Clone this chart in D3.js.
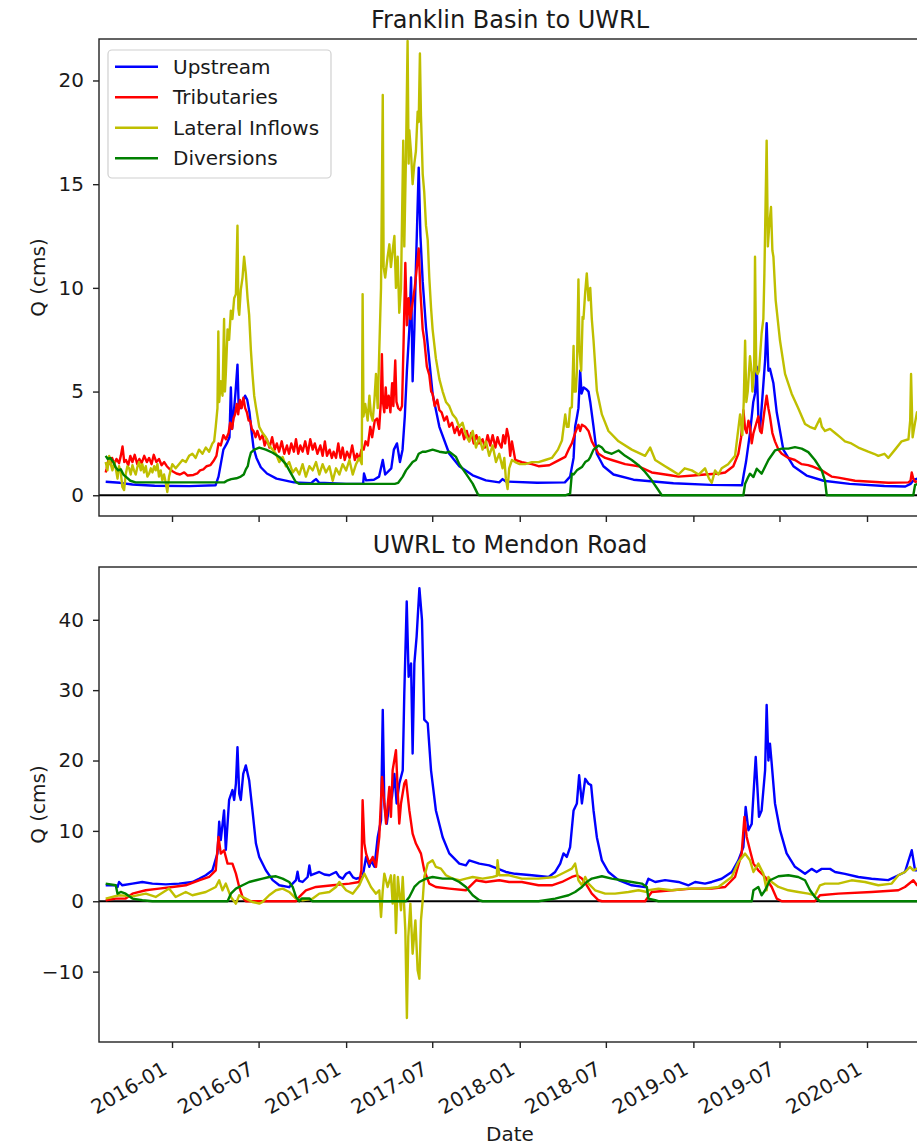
<!DOCTYPE html>
<html><head><meta charset="utf-8">
<script src="https://cdn.jsdelivr.net/npm/d3@7"></script>
<style>body{margin:0;background:#fff;} svg{display:block;font-family:"DejaVu Sans",sans-serif;}</style>
</head><body><svg id="chart" width="917" height="1148"></svg>
<script>
// ---------- data (time as decimal year, value in cms) ----------
const seriesNames = ["Upstream","Tributaries","Lateral Inflows","Diversions"];
const seriesColors = ["#0000ff","#ff0000","#bfbf00","#008000"];
const panelTitles = ["Franklin Basin to UWRL","UWRL to Mendon Road"];
const topTicks = [0,5,10,15,20];
const bottomTicks = [-10,0,10,20,30,40];
const xTickLabels = ["2016-01","2016-07","2017-01","2017-07","2018-01","2018-07","2019-01","2019-07","2020-01"];

const topUpstream = [
[2015.618,0.65],[2015.70,0.6],[2015.772,0.52],[2015.90,0.46],[2016.10,0.44],[2016.25,0.48],
[2016.267,0.9],[2016.280,1.5],[2016.295,2.2],[2016.315,2.5],[2016.330,2.8],[2016.338,5.2],[2016.345,3.2],[2016.355,4.0],[2016.365,5.0],[2016.376,6.3],[2016.383,4.2],[2016.395,4.2],[2016.410,4.6],[2016.420,4.8],[2016.432,4.6],[2016.445,4.0],[2016.458,3.0],[2016.468,2.3],[2016.485,1.8],[2016.510,1.35],[2016.545,1.05],[2016.60,0.8],[2016.70,0.62],[2016.80,0.58],[2016.815,0.7],[2016.827,0.78],[2016.845,0.6],[2017.00,0.55],[2017.098,0.55],
[2017.103,1.05],[2017.115,0.72],[2017.16,0.75],[2017.19,0.9],[2017.211,1.7],[2017.225,1.0],[2017.26,1.3],[2017.275,2.2],[2017.293,2.5],[2017.310,1.6],[2017.325,2.2],[2017.338,3.8],[2017.350,6.0],[2017.364,8.0],[2017.374,10.5],[2017.383,5.5],[2017.393,8.0],[2017.402,11.0],[2017.418,15.8],[2017.428,12.5],[2017.441,10.3],[2017.460,8.1],[2017.479,6.5],[2017.498,4.9],[2017.537,3.3],[2017.594,2.0],[2017.652,1.4],[2017.729,0.96],[2017.805,0.72],[2017.882,0.62],[2017.901,0.78],[2017.92,0.66],
[2018.10,0.6],[2018.26,0.62],[2018.29,0.9],[2018.31,1.8],[2018.319,3.3],[2018.330,3.8],[2018.338,4.2],[2018.348,6.0],[2018.356,4.9],[2018.368,5.2],[2018.385,5.1],[2018.396,5.0],[2018.406,4.5],[2018.425,3.3],[2018.444,2.0],[2018.482,1.4],[2018.540,1.0],[2018.655,0.75],[2018.885,0.58],
[2019.10,0.5],[2019.28,0.48],[2019.29,1.0],[2019.303,1.6],[2019.326,3.0],[2019.345,4.5],[2019.355,4.9],[2019.365,6.2],[2019.374,3.8],[2019.384,3.2],[2019.40,5.0],[2019.413,6.5],[2019.422,8.3],[2019.432,6.0],[2019.441,6.1],[2019.461,5.4],[2019.480,4.0],[2019.518,2.2],[2019.576,1.4],[2019.652,0.95],[2019.75,0.7],[2019.90,0.55],[2020.10,0.45],[2020.22,0.42],[2020.25,0.55],[2020.27,0.75],[2020.31,0.85]
];

const topTributaries = [
[2015.618,1.1],[2015.624,1.3],[2015.635,1.75],[2015.645,1.5],[2015.655,1.8],[2015.668,1.5],[2015.680,1.75],[2015.695,1.55],[2015.705,1.9],[2015.715,2.35],[2015.725,1.6],[2015.735,1.7],[2015.748,1.45],[2015.760,1.9],[2015.772,1.6],[2015.785,1.95],[2015.800,1.5],[2015.812,1.75],[2015.825,1.55],[2015.840,1.9],[2015.855,1.6],[2015.868,1.8],[2015.882,1.5],[2015.895,1.95],[2015.910,1.6],[2015.925,1.75],[2015.940,1.45],[2015.955,1.6],[2015.970,1.4],[2015.988,1.25],[2016.005,1.15],[2016.025,1.05],[2016.046,1.0],[2016.07,1.1],[2016.09,0.95],[2016.123,0.98],[2016.145,1.05],[2016.161,1.2],[2016.18,1.25],[2016.199,1.4],[2016.22,1.45],[2016.238,1.65],[2016.255,1.9],
[2016.267,2.5],[2016.280,2.4],[2016.295,2.9],[2016.310,2.7],[2016.325,3.0],[2016.334,3.5],[2016.345,3.2],[2016.353,3.7],[2016.362,3.9],[2016.372,4.4],[2016.380,3.9],[2016.390,4.6],[2016.400,4.2],[2016.410,4.7],[2016.420,4.2],[2016.430,4.0],[2016.440,3.6],[2016.449,3.6],[2016.458,3.2],[2016.468,3.1],[2016.480,2.8],[2016.490,3.1],[2016.506,2.7],[2016.520,2.9],[2016.532,2.4],[2016.545,2.7],[2016.56,2.3],[2016.575,2.8],[2016.59,2.2],[2016.602,2.5],[2016.615,2.1],[2016.63,2.6],[2016.645,2.0],[2016.660,2.4],[2016.672,2.0],[2016.685,2.5],[2016.70,2.1],[2016.712,2.7],[2016.725,2.0],[2016.737,2.4],[2016.75,2.1],[2016.765,2.6],[2016.78,2.0],[2016.794,2.7],[2016.808,2.2],[2016.82,2.5],[2016.835,2.0],[2016.852,2.4],[2016.865,1.9],[2016.878,2.6],[2016.89,1.9],[2016.905,2.2],[2016.918,1.8],[2016.928,2.1],[2016.942,1.8],[2016.955,2.5],[2016.968,1.8],[2016.98,2.3],[2016.992,1.7],[2017.005,2.1],[2017.02,1.8],[2017.035,2.4],[2017.05,1.7],[2017.063,2.0],[2017.075,1.7],[2017.088,2.2],
[2017.101,2.2],[2017.112,2.6],[2017.125,2.4],[2017.139,3.3],[2017.15,2.8],[2017.165,3.6],[2017.178,3.7],[2017.19,3.2],[2017.200,4.5],[2017.206,6.8],[2017.212,4.5],[2017.220,4.0],[2017.228,5.2],[2017.235,4.2],[2017.245,4.8],[2017.255,4.0],[2017.265,5.4],[2017.272,4.3],[2017.283,6.5],[2017.290,4.5],[2017.300,4.2],[2017.312,4.1],[2017.322,4.3],[2017.331,7.4],[2017.341,11.2],[2017.350,8.2],[2017.360,9.5],[2017.370,8.5],[2017.383,9.3],[2017.395,10.0],[2017.405,10.8],[2017.418,11.9],[2017.428,9.8],[2017.441,8.0],[2017.450,7.5],[2017.465,6.2],[2017.479,5.8],[2017.490,5.0],[2017.498,4.9],[2017.51,4.3],[2017.525,4.6],[2017.537,4.1],[2017.55,4.0],[2017.565,3.6],[2017.58,3.8],[2017.594,3.3],[2017.61,3.5],[2017.625,3.0],[2017.64,3.3],[2017.652,2.9],[2017.665,3.2],[2017.68,2.7],[2017.695,3.1],[2017.709,2.6],[2017.72,3.0],[2017.735,2.5],[2017.75,2.9],[2017.765,2.5],[2017.786,2.7],[2017.80,2.3],[2017.815,2.9],[2017.83,2.4],[2017.844,2.9],[2017.86,2.3],[2017.872,2.8],[2017.882,2.5],[2017.895,2.3],[2017.905,2.9],[2017.916,2.5],[2017.926,3.2],[2017.936,2.8],[2017.945,1.9],[2017.955,2.6],[2017.974,1.7],
[2018.012,1.6],[2018.07,1.5],[2018.108,1.4],[2018.17,1.45],[2018.204,1.6],[2018.262,1.85],[2018.281,2.2],[2018.300,2.5],[2018.319,3.0],[2018.338,3.4],[2018.348,3.1],[2018.358,3.4],[2018.377,3.3],[2018.396,3.1],[2018.415,2.6],[2018.434,2.3],[2018.454,2.0],[2018.492,1.8],[2018.530,1.7],[2018.607,1.5],[2018.684,1.4],[2018.760,1.1],[2018.80,1.05],[2018.876,0.95],[2018.914,0.9],[2019.00,0.95],[2019.067,1.0],[2019.15,1.05],[2019.183,1.1],[2019.230,1.4],[2019.259,2.0],[2019.275,2.8],[2019.288,4.1],[2019.298,3.2],[2019.307,3.0],[2019.317,3.6],[2019.326,3.3],[2019.336,2.5],[2019.346,3.0],[2019.360,3.4],[2019.374,3.8],[2019.384,3.1],[2019.393,3.0],[2019.408,4.0],[2019.422,4.8],[2019.432,4.2],[2019.441,3.8],[2019.455,3.0],[2019.470,2.6],[2019.490,2.2],[2019.509,2.0],[2019.547,1.8],[2019.585,1.7],[2019.624,1.5],[2019.660,1.45],[2019.681,1.4],[2019.739,1.2],[2019.796,0.9],[2019.835,0.85],[2019.931,0.7],[2020.026,0.65],[2020.122,0.6],[2020.238,0.62],[2020.250,0.7],[2020.257,1.1],[2020.266,0.8],[2020.276,0.65],[2020.31,0.7]
];

const topLateral = [
[2015.618,1.6],[2015.628,1.2],[2015.638,1.9],[2015.647,1.5],[2015.657,1.2],[2015.667,1.6],[2015.676,1.3],[2015.686,0.8],[2015.695,1.4],[2015.705,1.1],[2015.714,0.4],[2015.724,0.25],[2015.733,1.0],[2015.743,1.4],[2015.753,1.3],[2015.762,1.0],[2015.772,1.45],[2015.781,1.2],[2015.791,1.0],[2015.800,1.35],[2015.810,1.6],[2015.820,1.2],[2015.829,1.5],[2015.839,1.1],[2015.849,1.4],[2015.858,0.9],[2015.868,1.04],[2015.878,1.3],[2015.887,1.1],[2015.897,1.4],[2015.906,1.2],[2015.916,1.5],[2015.925,0.9],[2015.935,1.2],[2015.944,0.72],[2015.954,1.0],[2015.964,0.6],[2015.973,0.16],[2015.983,0.9],[2015.992,1.2],[2016.002,1.5],[2016.021,1.3],[2016.040,1.5],[2016.060,1.7],[2016.079,1.6],[2016.098,1.9],[2016.117,2.0],[2016.136,1.8],[2016.155,2.2],[2016.175,2.0],[2016.194,2.3],[2016.213,2.1],[2016.232,2.5],[2016.242,2.6],
[2016.251,3.3],[2016.261,4.2],[2016.266,7.9],[2016.271,4.5],[2016.280,5.5],[2016.290,4.8],[2016.299,8.5],[2016.304,5.0],[2016.309,5.85],[2016.319,8.0],[2016.328,7.5],[2016.338,8.9],[2016.347,8.5],[2016.357,9.5],[2016.367,9.7],[2016.376,13.0],[2016.381,9.0],[2016.386,8.7],[2016.395,9.9],[2016.405,10.5],[2016.414,11.5],[2016.424,10.7],[2016.434,9.5],[2016.443,8.7],[2016.453,7.0],[2016.462,5.85],[2016.472,4.8],[2016.482,4.25],[2016.501,3.3],[2016.520,3.0],[2016.539,2.8],[2016.558,2.4],[2016.578,2.2],[2016.597,2.0],[2016.616,1.6],[2016.635,1.85],[2016.654,1.4],[2016.673,1.6],[2016.693,1.1],[2016.712,1.3],[2016.731,1.0],[2016.750,1.5],[2016.769,0.9],[2016.789,1.4],[2016.808,1.2],[2016.827,1.6],[2016.846,1.0],[2016.865,1.5],[2016.884,1.1],[2016.904,1.4],[2016.923,0.7],[2016.942,1.3],[2016.961,1.0],[2016.980,1.5],[2017.000,1.2],[2017.019,1.7],[2017.038,1.0],[2017.057,1.5],[2017.076,1.8],[2017.090,1.5],
[2017.095,9.7],[2017.100,3.8],[2017.110,4.4],[2017.124,3.6],[2017.134,4.8],[2017.143,3.9],[2017.153,3.6],[2017.163,4.6],[2017.172,5.85],[2017.182,4.2],[2017.191,7.0],[2017.201,10.0],[2017.211,19.3],[2017.216,11.0],[2017.225,10.5],[2017.239,11.5],[2017.249,12.1],[2017.258,11.0],[2017.268,11.8],[2017.278,12.5],[2017.287,10.0],[2017.297,11.5],[2017.306,8.8],[2017.316,10.0],[2017.329,17.1],[2017.335,12.0],[2017.345,16.5],[2017.354,21.9],[2017.360,16.0],[2017.364,17.6],[2017.374,16.5],[2017.383,15.0],[2017.393,16.0],[2017.402,16.6],[2017.412,18.5],[2017.418,18.0],[2017.425,21.3],[2017.431,18.3],[2017.441,15.5],[2017.450,14.6],[2017.460,13.0],[2017.470,12.3],[2017.479,10.5],[2017.489,9.05],[2017.498,8.0],[2017.517,6.6],[2017.537,5.6],[2017.556,5.0],[2017.575,4.5],[2017.594,4.3],[2017.613,3.9],[2017.633,3.7],[2017.652,3.3],[2017.67,3.5],[2017.690,2.9],[2017.709,2.6],[2017.729,3.1],[2017.748,2.3],[2017.767,2.8],[2017.786,2.2],[2017.805,2.6],[2017.824,1.9],[2017.844,2.4],[2017.863,1.6],[2017.882,2.0],[2017.901,1.3],[2017.911,1.8],[2017.920,0.8],[2017.930,0.3],[2017.939,1.3],[2017.955,1.7],[2017.974,1.6],
[2018.000,1.5],[2018.031,1.5],[2018.070,1.6],[2018.108,1.6],[2018.147,1.7],[2018.185,1.8],[2018.220,2.2],[2018.243,2.64],[2018.262,3.9],[2018.271,3.3],[2018.281,3.3],[2018.290,4.2],[2018.300,4.25],[2018.310,7.2],[2018.314,5.0],[2018.323,5.0],[2018.329,6.0],[2018.338,10.4],[2018.344,7.0],[2018.354,6.0],[2018.362,8.6],[2018.367,8.5],[2018.377,9.8],[2018.386,10.7],[2018.396,9.4],[2018.406,10.0],[2018.415,8.5],[2018.425,7.45],[2018.444,5.05],[2018.473,3.9],[2018.511,3.1],[2018.569,2.6],[2018.645,2.2],[2018.722,1.9],[2018.751,2.3],[2018.780,1.7],[2018.837,1.4],[2018.876,1.2],[2018.914,1.0],[2018.950,1.3],[2018.991,1.2],[2019.030,1.0],[2019.067,1.3],[2019.090,0.8],[2019.106,0.6],[2019.125,1.2],[2019.144,1.0],[2019.163,1.3],[2019.200,1.5],[2019.240,1.9],
[2019.269,3.9],[2019.282,2.9],[2019.290,4.5],[2019.298,7.45],[2019.305,4.5],[2019.313,5.0],[2019.326,6.7],[2019.336,5.9],[2019.340,5.0],[2019.350,6.0],[2019.355,11.5],[2019.362,6.0],[2019.370,5.85],[2019.378,6.0],[2019.393,7.8],[2019.403,8.5],[2019.409,10.7],[2019.422,17.1],[2019.429,12.0],[2019.436,12.9],[2019.447,13.9],[2019.455,11.8],[2019.461,11.5],[2019.474,9.4],[2019.499,7.45],[2019.528,5.85],[2019.566,4.9],[2019.604,4.2],[2019.643,3.44],[2019.670,3.3],[2019.700,3.2],[2019.729,3.7],[2019.740,3.3],[2019.758,3.1],[2019.787,3.2],[2019.816,3.0],[2019.845,2.8],[2019.873,2.6],[2019.910,2.5],[2019.950,2.3],[2020.007,2.1],[2020.040,2.0],[2020.065,1.9],[2020.100,2.0],[2020.122,1.8],[2020.161,2.2],[2020.199,2.6],[2020.238,2.7],[2020.248,3.6],[2020.253,5.85],[2020.262,2.8],[2020.276,3.5],[2020.287,4.0],[2020.31,4.0]
];

const topDiversions = [
[2015.618,1.9],[2015.630,1.75],[2015.645,1.8],[2015.662,1.6],[2015.675,1.35],[2015.690,1.2],[2015.705,1.25],[2015.720,1.0],[2015.740,0.85],[2015.760,0.7],[2015.790,0.62],[2016.00,0.62],[2016.30,0.62],[2016.320,0.72],[2016.340,0.78],[2016.370,0.82],[2016.395,0.9],[2016.412,1.0],[2016.424,1.25],[2016.435,1.4],[2016.443,1.75],[2016.453,2.05],[2016.472,2.2],[2016.501,2.3],[2016.539,2.2],[2016.578,2.05],[2016.616,1.85],[2016.654,1.5],[2016.680,1.1],[2016.710,0.65],[2016.731,0.55],[2017.28,0.55],[2017.300,0.6],[2017.326,0.9],[2017.345,1.2],[2017.364,1.4],[2017.383,1.6],[2017.402,1.7],[2017.418,2.0],[2017.440,2.1],[2017.460,2.1],[2017.498,2.2],[2017.537,2.1],[2017.575,2.05],[2017.594,2.1],[2017.633,1.85],[2017.652,1.5],[2017.690,1.04],[2017.729,0.56],[2017.757,0.08],[2017.767,0.0],
[2018.262,0.0],[2018.290,0.08],[2018.300,1.04],[2018.310,1.0],[2018.329,1.2],[2018.338,1.25],[2018.358,1.36],[2018.377,1.6],[2018.396,1.7],[2018.406,1.84],[2018.425,2.2],[2018.454,2.4],[2018.473,2.3],[2018.492,2.1],[2018.530,2.0],[2018.569,2.16],[2018.607,1.9],[2018.645,1.7],[2018.684,1.45],[2018.722,1.12],[2018.760,0.72],[2018.799,0.24],[2018.818,0.0],
[2019.288,0.0],[2019.298,0.56],[2019.317,0.9],[2019.326,1.04],[2019.346,0.88],[2019.365,1.28],[2019.393,1.04],[2019.432,1.7],[2019.470,2.16],[2019.509,2.25],[2019.547,2.25],[2019.585,2.32],[2019.624,2.25],[2019.662,2.08],[2019.700,1.7],[2019.739,1.2],[2019.758,0.7],[2019.768,0.0],[2020.266,0.0],[2020.276,0.5],[2020.31,0.6]
];

const bottomUpstream = [
[2015.618,2.27],[2015.676,2.27],[2015.686,2.0],[2015.695,2.74],[2015.714,2.27],[2015.772,2.5],[2015.829,2.74],[2015.887,2.5],[2015.964,2.4],[2016.040,2.5],[2016.117,2.74],[2016.155,3.2],[2016.194,3.7],[2016.232,4.4],[2016.261,6.8],[2016.271,11.3],[2016.280,8.7],[2016.299,12.9],[2016.309,7.3],[2016.328,14.4],[2016.347,15.8],[2016.357,14.4],[2016.367,16.7],[2016.376,21.9],[2016.386,15.3],[2016.395,14.4],[2016.409,18.1],[2016.424,19.3],[2016.443,17.2],[2016.462,12.9],[2016.482,8.2],[2016.501,6.3],[2016.539,4.4],[2016.578,3.0],[2016.616,2.27],[2016.673,2.0],[2016.712,3.0],[2016.721,4.2],[2016.730,2.9],[2016.750,2.74],[2016.779,3.45],[2016.789,5.1],[2016.798,3.7],[2016.846,4.16],[2016.875,3.8],[2016.904,3.7],[2016.942,4.16],[2016.960,3.5],[2016.980,3.2],[2017.000,3.9],[2017.019,4.16],[2017.040,3.4],[2017.057,3.2],[2017.095,3.45],
[2017.115,6.3],[2017.134,4.9],[2017.143,5.8],[2017.163,4.9],[2017.182,9.1],[2017.201,11.5],[2017.211,27.2],[2017.220,13.9],[2017.234,11.0],[2017.249,13.9],[2017.264,14.8],[2017.278,18.1],[2017.291,13.9],[2017.306,16.7],[2017.326,18.6],[2017.335,29.5],[2017.349,42.6],[2017.360,31.9],[2017.374,33.8],[2017.383,21.0],[2017.393,33.8],[2017.406,37.6],[2017.422,44.5],[2017.437,40.0],[2017.450,25.8],[2017.470,25.3],[2017.489,18.6],[2017.517,12.9],[2017.556,9.1],[2017.594,6.8],[2017.652,5.35],[2017.690,5.1],[2017.709,5.8],[2017.767,5.35],[2017.824,5.1],[2017.872,4.64],[2017.920,4.16],
[2017.974,3.9],[2018.070,3.7],[2018.166,3.45],[2018.204,4.16],[2018.233,5.35],[2018.252,6.8],[2018.271,6.3],[2018.290,7.7],[2018.310,12.9],[2018.329,13.9],[2018.342,17.9],[2018.358,13.9],[2018.377,17.4],[2018.396,16.7],[2018.411,16.5],[2018.425,12.9],[2018.444,9.1],[2018.473,5.8],[2018.511,4.16],[2018.569,3.0],[2018.645,2.27],[2018.722,2.0],[2018.741,3.2],[2018.780,2.74],[2018.837,3.0],[2018.914,2.74],[2018.972,2.27],[2019.010,2.74],[2019.067,2.5],[2019.106,2.74],[2019.163,3.2],[2019.221,4.16],[2019.259,5.8],[2019.288,7.7],[2019.301,13.4],[2019.317,10.1],[2019.336,11.0],[2019.359,20.5],[2019.378,12.0],[2019.393,12.9],[2019.413,18.6],[2019.422,27.9],[2019.432,20.0],[2019.441,22.4],[2019.451,19.6],[2019.470,13.9],[2019.499,10.1],[2019.537,6.8],[2019.585,4.9],[2019.643,3.9],[2019.681,4.6],[2019.710,4.16],[2019.739,4.6],[2019.787,4.6],[2019.816,4.16],[2019.873,3.9],[2019.950,3.45],[2020.026,3.2],[2020.122,3.0],[2020.180,3.7],[2020.218,4.16],[2020.257,7.25],[2020.276,4.4],[2020.31,4.4]
];

const bottomTributaries = [
[2015.618,0.14],[2015.676,0.38],[2015.733,0.38],[2015.772,1.08],[2015.849,1.56],[2015.925,1.8],[2016.002,2.03],[2016.079,2.27],[2016.155,2.98],[2016.213,3.45],[2016.251,4.4],[2016.267,9.14],[2016.280,6.77],[2016.299,7.25],[2016.319,5.35],[2016.347,5.35],[2016.367,3.93],[2016.386,2.03],[2016.405,0.61],[2016.424,0.0],[2016.712,0.0],[2016.731,0.61],[2016.769,1.56],[2016.827,2.03],[2016.923,2.27],[2017.019,2.51],[2017.076,2.74],[2017.088,4.4],[2017.095,14.36],[2017.105,8.2],[2017.115,6.77],[2017.134,5.35],[2017.153,6.3],[2017.172,4.88],[2017.191,9.14],[2017.207,17.68],[2017.220,13.89],[2017.230,11.04],[2017.249,16.26],[2017.258,11.99],[2017.268,18.63],[2017.287,21.47],[2017.297,15.78],[2017.306,11.04],[2017.316,13.89],[2017.335,16.73],[2017.345,17.21],[2017.364,12.94],[2017.383,9.62],[2017.402,8.2],[2017.431,6.77],[2017.450,4.4],[2017.479,2.51],[2017.517,2.03],[2017.594,1.8],[2017.690,1.56],[2017.729,2.51],[2017.748,2.98],[2017.805,2.74],[2017.882,2.98],[2017.939,2.74],
[2018.012,2.74],[2018.108,2.27],[2018.185,2.27],[2018.243,2.74],[2018.300,3.45],[2018.329,3.69],[2018.358,3.22],[2018.386,2.27],[2018.415,1.08],[2018.454,0.14],[2018.473,0.0],[2018.722,0.0],[2018.760,1.32],[2018.876,1.56],[2018.991,1.8],[2019.106,1.8],[2019.183,2.03],[2019.240,3.45],[2019.278,6.77],[2019.294,11.99],[2019.307,9.14],[2019.326,7.25],[2019.346,5.35],[2019.374,4.4],[2019.413,3.45],[2019.451,2.03],[2019.480,0.38],[2019.509,0.0],[2019.700,0.0],[2019.729,0.85],[2019.835,1.08],[2020.026,1.32],[2020.180,1.56],[2020.218,2.03],[2020.266,2.98],[2020.287,2.27],[2020.31,2.3]
];

const bottomLateral = [
[2015.618,0.38],[2015.695,0.85],[2015.772,0.7],[2015.849,1.08],[2015.906,0.61],[2015.983,1.8],[2016.021,0.61],[2016.079,1.32],[2016.117,0.85],[2016.194,1.32],[2016.251,2.03],[2016.271,2.98],[2016.290,1.56],[2016.309,2.51],[2016.338,0.61],[2016.367,-0.34],[2016.386,0.85],[2016.424,0.38],[2016.462,-0.1],[2016.501,-0.34],[2016.520,-0.1],[2016.558,0.85],[2016.597,1.56],[2016.635,1.8],[2016.673,1.32],[2016.712,0.38],[2016.750,0.14],[2016.808,0.38],[2016.846,1.08],[2016.904,1.32],[2016.942,2.03],[2016.961,2.74],[2017.000,1.56],[2017.038,1.08],[2017.076,2.27],
[2017.105,3.93],[2017.124,2.98],[2017.143,2.03],[2017.172,1.08],[2017.191,1.56],[2017.201,-2.24],[2017.211,1.56],[2017.220,3.93],[2017.239,2.03],[2017.258,3.69],[2017.268,-0.34],[2017.278,3.69],[2017.287,-4.5],[2017.298,3.45],[2017.316,-1.28],[2017.326,3.45],[2017.341,-4.13],[2017.350,-16.6],[2017.358,-5.08],[2017.370,-0.34],[2017.383,-7.45],[2017.399,-2.71],[2017.412,-9.82],[2017.422,-11.0],[2017.431,-2.71],[2017.441,0.14],[2017.450,3.45],[2017.470,5.35],[2017.498,5.82],[2017.517,4.88],[2017.546,4.64],[2017.575,3.69],[2017.613,3.22],[2017.652,2.98],[2017.690,3.22],[2017.729,3.45],[2017.786,3.22],[2017.844,3.45],[2017.868,3.6],[2017.872,5.82],[2017.882,3.69],[2017.939,3.69],
[2018.012,3.22],[2018.108,3.22],[2018.204,3.45],[2018.262,4.16],[2018.300,4.64],[2018.319,5.35],[2018.338,2.98],[2018.358,2.27],[2018.377,3.45],[2018.396,2.51],[2018.434,1.56],[2018.492,1.08],[2018.549,1.08],[2018.626,1.32],[2018.684,1.56],[2018.732,1.32],[2018.741,1.56],[2018.799,1.8],[2018.876,1.56],[2018.972,1.8],[2019.067,1.8],[2019.144,2.03],[2019.221,3.45],[2019.259,5.59],[2019.298,6.77],[2019.326,5.82],[2019.346,4.16],[2019.374,5.35],[2019.403,3.93],[2019.422,1.56],[2019.432,3.45],[2019.451,2.74],[2019.490,2.03],[2019.547,1.56],[2019.604,1.32],[2019.662,1.08],[2019.700,0.85],[2019.729,2.27],[2019.758,2.51],[2019.835,2.51],[2019.911,2.98],[2019.988,2.74],[2020.065,2.27],[2020.142,2.51],[2020.180,3.69],[2020.218,4.16],[2020.247,4.88],[2020.266,4.4],[2020.287,4.64],[2020.31,4.6]
];

const bottomDiversions = [
[2015.618,2.51],[2015.676,2.27],[2015.686,1.08],[2015.705,1.32],[2015.733,1.08],[2015.772,0.38],[2015.829,0.14],[2015.887,0.0],[2016.319,0.0],[2016.338,1.08],[2016.367,1.8],[2016.405,2.27],[2016.443,2.74],[2016.482,2.98],[2016.520,3.22],[2016.558,3.45],[2016.597,3.55],[2016.635,3.22],[2016.673,2.74],[2016.693,2.03],[2016.712,0.61],[2016.731,0.0],[2016.745,0.4],[2016.790,0.4],[2016.805,0.0],[2017.345,0.0],[2017.364,0.61],[2017.393,2.03],[2017.422,2.74],[2017.460,3.22],[2017.498,3.45],[2017.556,3.22],[2017.613,3.22],[2017.652,2.74],[2017.690,2.03],[2017.729,0.85],[2017.767,0.14],[2017.786,0.0],
[2018.108,0.0],[2018.204,0.38],[2018.281,0.85],[2018.319,1.32],[2018.358,2.03],[2018.386,2.74],[2018.415,3.22],[2018.473,3.55],[2018.530,3.22],[2018.588,2.98],[2018.645,2.74],[2018.703,2.51],[2018.732,2.03],[2018.741,0.38],[2018.780,0.14],[2018.799,0.0],[2019.336,0.0],[2019.346,1.56],[2019.374,2.03],[2019.393,0.85],[2019.413,1.56],[2019.441,2.98],[2019.490,3.55],[2019.547,3.69],[2019.604,3.45],[2019.643,2.98],[2019.672,1.56],[2019.700,0.61],[2019.729,0.0],[2020.31,0.0]
];

// ---------- drawing ----------
const svg = d3.select("#chart");
const plotLeft = 99, plotRight = 921;
const textColor = "#1a1a1a";
const lineWidth = 2.4;
function yearToDate(y){
  const Y = Math.floor(y);
  const s = Date.UTC(Y,0,1), e = Date.UTC(Y+1,0,1);
  return new Date(s + (y - Y) * (e - s));
}
const x = d3.scaleUtc()
  .domain([new Date(Date.UTC(2015,6,31,12)), new Date(Date.UTC(2020,3,23,12))])
  .range([plotLeft, plotRight]);
const parseMonth = d3.utcParse("%Y-%m");
const xTickDates = xTickLabels.map(parseMonth);

const panels = [
  {top:39, bottom:516, domain:[-1,22], ticks:topTicks, title:panelTitles[0], titleY:28,
   data:[topUpstream, topTributaries, topLateral, topDiversions], showLabels:false, legend:true},
  {top:567, bottom:1042, domain:[-20,47.5], ticks:bottomTicks, title:panelTitles[1], titleY:553,
   data:[bottomUpstream, bottomTributaries, bottomLateral, bottomDiversions], showLabels:true, legend:false}
];

panels.forEach((p, pi) => {
  const y = d3.scaleLinear().domain(p.domain).range([p.bottom, p.top]);
  const g = svg.append("g");
  const clipId = "clip" + pi;
  svg.append("clipPath").attr("id", clipId).append("rect")
    .attr("x", plotLeft).attr("y", p.top).attr("width", plotRight - plotLeft).attr("height", p.bottom - p.top);

  const plot = g.append("g").attr("clip-path", `url(#${clipId})`);
  plot.append("line").attr("x1", plotLeft).attr("x2", plotRight)
    .attr("y1", y(0)).attr("y2", y(0)).attr("stroke", "#000").attr("stroke-width", 2.2);

  const line = d3.line().x(d => x(yearToDate(d[0]))).y(d => y(d[1]));
  p.data.forEach((series, si) => {
    plot.append("path").datum(series).attr("d", line)
      .attr("fill", "none").attr("stroke", seriesColors[si])
      .attr("stroke-width", lineWidth).attr("stroke-linejoin", "round");
  });

  g.append("rect").attr("x", plotLeft).attr("y", p.top)
    .attr("width", plotRight - plotLeft).attr("height", p.bottom - p.top)
    .attr("fill", "none").attr("stroke", "#222").attr("stroke-width", 1.4);

  const ya = g.append("g").attr("transform", `translate(${plotLeft},0)`)
    .call(d3.axisLeft(y).tickValues(p.ticks).tickSize(6).tickPadding(9));
  ya.select(".domain").remove();
  ya.selectAll("line").attr("stroke", "#222").attr("stroke-width", 1.4);
  ya.selectAll("text").attr("font-size", 20).attr("fill", textColor)
    .attr("font-family", "DejaVu Sans");

  const xa = g.append("g").attr("transform", `translate(0,${p.bottom})`)
    .call(d3.axisBottom(x).tickValues(xTickDates).tickSize(6)
      .tickFormat(p.showLabels ? d3.utcFormat("%Y-%m") : () => ""));
  xa.select(".domain").remove();
  xa.selectAll("line").attr("stroke", "#222").attr("stroke-width", 1.4);
  if (p.showLabels) {
    xa.selectAll("text").attr("font-size", 20).attr("fill", textColor)
      .attr("font-family", "DejaVu Sans")
      .attr("text-anchor", "end").attr("x", 0).attr("y", 0).attr("dy", 0)
      .attr("transform", "translate(-4,31) rotate(-30)");
  }

  svg.append("text").attr("x", (plotLeft + plotRight) / 2).attr("y", p.titleY)
    .attr("text-anchor", "middle").attr("font-size", 24).attr("fill", textColor)
    .text(p.title);

  svg.append("text")
    .attr("transform", `translate(45,${(p.top + p.bottom) / 2}) rotate(-90)`)
    .attr("text-anchor", "middle").attr("font-size", 20).attr("fill", textColor)
    .text("Q (cms)");

  if (p.legend) {
    const lg = svg.append("g");
    lg.append("rect").attr("x", 108).attr("y", 50).attr("width", 223).attr("height", 128)
      .attr("rx", 4).attr("fill", "#fff").attr("fill-opacity", 0.8)
      .attr("stroke", "#d0d0d0").attr("stroke-width", 1.2);
    seriesNames.forEach((name, i) => {
      const cy = 66.7 + i * 30.5;
      lg.append("line").attr("x1", 115).attr("x2", 158).attr("y1", cy).attr("y2", cy)
        .attr("stroke", seriesColors[i]).attr("stroke-width", lineWidth);
      lg.append("text").attr("x", 173).attr("y", cy + 7).attr("font-size", 20)
        .attr("fill", textColor).text(name);
    });
  }
});

svg.append("text").attr("x", 510).attr("y", 1141).attr("text-anchor", "middle")
  .attr("font-size", 20).attr("fill", textColor).text("Date");
</script></body></html>
